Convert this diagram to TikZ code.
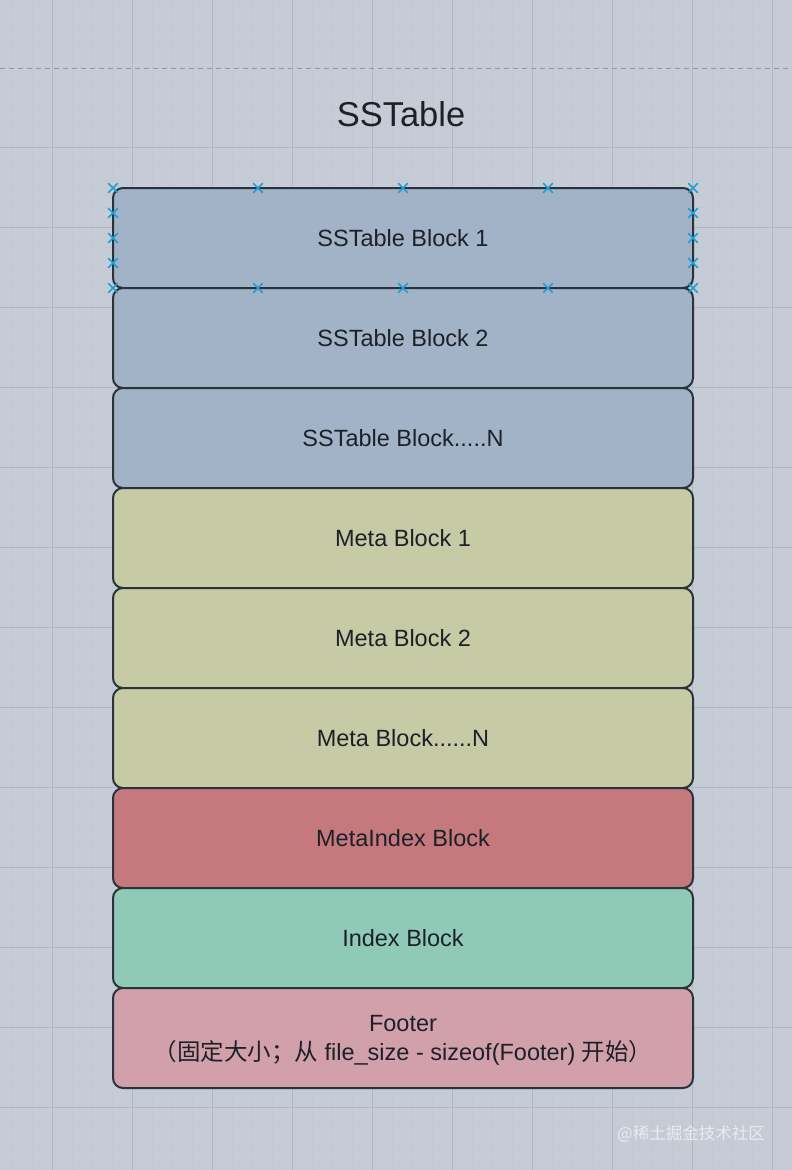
\documentclass[tikz,border=0pt]{standalone}
\usepackage{fontspec}
\setmainfont{Liberation Sans}
\newfontfamily\cjk{Noto Sans CJK SC}
\usepackage{tikz}
\usetikzlibrary{positioning, calc, shapes.misc}

\definecolor{canvasbg}{HTML}{C6CCD5}
\definecolor{gridmajor}{HTML}{B2B8C2}
\definecolor{gridminor}{HTML}{C3C9D2}
\definecolor{edgedark}{HTML}{2A323C}
\definecolor{inkdark}{HTML}{1C2128}
\definecolor{sstfill}{HTML}{A2B3C8}
\definecolor{metafill}{HTML}{C6CAA5}
\definecolor{mindexfill}{HTML}{C5797D}
\definecolor{indexfill}{HTML}{8FCAB6}
\definecolor{footfill}{HTML}{D1A0AA}
\definecolor{handleblue}{HTML}{1E9FD6}
\definecolor{marktext}{HTML}{E9ECF0}

\tikzset{
    layer/.style={draw=edgedark, line width=2pt, rounded corners=10pt,
        minimum width=580pt, minimum height=100pt, inner sep=0pt, outer sep=0pt,
        text=inkdark, align=center, font=\fontsize{23.5}{28}\selectfont},
    sstblock/.style={layer, fill=sstfill},
    metablock/.style={layer, fill=metafill},
    mindexblock/.style={layer, fill=mindexfill},
    indexblock/.style={layer, fill=indexfill},
    footblock/.style={layer, fill=footfill},
    handle/.style={cross out, draw=handleblue, line width=1.7pt,
        minimum size=8pt, inner sep=0pt},
}

\begin{document}
\begin{tikzpicture}[x=1pt, y=-1pt]
                \useasboundingbox (0,0) rectangle (792,1170);
                \fill[canvasbg] (0,0) rectangle (792,1170);
                % grid
                \foreach \gx in {12,32,...,792} \draw[gridminor, line width=0.6pt] (\gx,0) -- (\gx,1170);
                \foreach \gy in {7,27,...,1170} \draw[gridminor, line width=0.6pt] (0,\gy) -- (792,\gy);
                \foreach \gx in {52,132,...,792} \draw[gridmajor, line width=1pt] (\gx,0) -- (\gx,1170);
                \foreach \gy in {147,227,...,1170} \draw[gridmajor, line width=1pt] (0,\gy) -- (792,\gy);
                \draw[gray!80, line width=1pt, dash pattern=on 5pt off 4pt] (0,68) -- (792,68);

                \node[text=inkdark, font=\fontsize{34.5}{40}\selectfont] (title) at (401,114) {SSTable};

                \node[sstblock] (sst1) at (403,238) {SSTable Block 1};
                \node[sstblock, below=0pt of sst1] (sst2) {SSTable Block 2};
                \node[sstblock, below=0pt of sst2] (sstn) {SSTable Block.....N};
                \node[metablock, below=0pt of sstn] (meta1) {Meta Block 1};
                \node[metablock, below=0pt of meta1] (meta2) {Meta Block 2};
                \node[metablock, below=0pt of meta2] (metan) {Meta Block......N};
                \node[mindexblock, below=0pt of metan] (mindex) {MetaIndex Block};
                \node[indexblock, below=0pt of mindex] (index) {Index Block};
                \node[footblock, below=0pt of index, text depth=0pt] (footer)
                    {\raisebox{-2pt}{Footer}\\[3pt]{\cjk （固定大小；从} file\_size - sizeof(Footer) {\cjk 开始）}};

                % selection handles
                \foreach \f [count=\k] in {0,0.25,0.5,0.75,1} {
                    \node[handle] (hn\k) at ($(sst1.north west)!\f!(sst1.north east)$) {};
                    \node[handle] (hs\k) at ($(sst1.south west)!\f!(sst1.south east)$) {};
                }
                \foreach \f [count=\k] in {0.25,0.5,0.75} {
                    \node[handle] (hw\k) at ($(sst1.north west)!\f!(sst1.south west)$) {};
                    \node[handle] (he\k) at ($(sst1.north east)!\f!(sst1.south east)$) {};
                }

                \node[text=marktext, font=\cjk\fontsize{16.5}{20}\selectfont] (mark) at (691,1134) {@稀土掘金技术社区};
            \end{tikzpicture}
\end{document}
